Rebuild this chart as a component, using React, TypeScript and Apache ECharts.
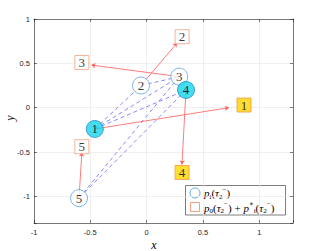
import React, { useEffect, useRef } from 'react';
import * as echarts from 'echarts';

// Circles p_i(tau_2^-)
const circleX = [-0.46, -0.05, 0.29, 0.35, -0.6];
const circleY = [-0.24, 0.25, 0.35, 0.2, -1.02];
const circleFilled = [true, false, false, true, false];
// Squares p_0 + p_i^*
const squareX = [0.865, 0.315, -0.575, 0.315, -0.575];
const squareY = [0.03, 0.8, 0.51, -0.73, -0.44];
const squareFilled = [true, false, false, true, false];
// Arrow tips (from each circle toward its square)
const arrowEndX = [0.73, 0.27, -0.49, 0.314, -0.575];
const arrowEndY = [0.0, 0.73, 0.48, -0.64, -0.505];
// Dashed links between circles (indices)
const links: [number, number][] = [
  [0, 1],
  [0, 2],
  [0, 3],
  [1, 2],
  [2, 4],
  [3, 4],
];
const xTickLabels = ['-1', '-0.5', '0', '0.5', '1'];
const yTickLabels = ['-1', '-0.5', '0', '0.5', '1'];

const AXIS = '#262626';
const GRIDC = '#e4e4e4';
const TICKFONT = 'Liberation Sans, Arial, sans-serif';
const SERIF = 'Liberation Serif, DejaVu Serif, serif';

const fmt = (labels: string[]) => (v: number) => {
  const s = String(Math.round(v * 10) / 10);
  return labels.includes(s) ? s : '';
};

const richStyles = {
  i: { fontFamily: SERIF, fontStyle: 'italic', fontSize: 11, lineHeight: 14, color: '#000' },
  n: { fontFamily: SERIF, fontSize: 11, lineHeight: 14, color: '#000' },
  s: { fontFamily: SERIF, fontSize: 7, lineHeight: 8, verticalAlign: 'bottom', color: '#000' },
  u: { fontFamily: SERIF, fontSize: 7, lineHeight: 8, verticalAlign: 'top', color: '#000' },
};

export default function App() {
  const ref = useRef<HTMLDivElement>(null);
  useEffect(() => {
    const chart = echarts.init(ref.current!, null, { renderer: 'svg' });
    const baseAxis = {
      type: 'value' as const,
      axisLine: { show: true, onZero: false, lineStyle: { color: AXIS, width: 0.6 } },
      axisTick: { show: true, inside: true, length: 3, lineStyle: { color: AXIS, width: 0.6 } },
    };
    const option = {
      animation: false,
      backgroundColor: '#fff',
      grid: { left: 34, top: 19, width: 259, height: 204, containLabel: false },
      xAxis: [
        {
          ...baseAxis,
          position: 'bottom',
          min: -1,
          max: 1.3,
          minInterval: 0.5,
          maxInterval: 0.5,
          splitNumber: 5,
          axisLabel: { formatter: fmt(xTickLabels), color: AXIS, fontSize: 7.5, fontFamily: TICKFONT, margin: 5 },
          splitLine: { show: true, lineStyle: { color: GRIDC, width: 0.6 } },
        },
        {
          ...baseAxis,
          position: 'top',
          min: -1,
          max: 1.3,
          minInterval: 0.5,
          maxInterval: 0.5,
          splitNumber: 5,
          axisLabel: { show: false },
          splitLine: { show: false },
        },
      ],
      yAxis: [
        {
          ...baseAxis,
          position: 'left',
          min: -1.3,
          max: 1,
          minInterval: 0.5,
          maxInterval: 0.5,
          splitNumber: 5,
          axisLabel: { formatter: fmt(yTickLabels), color: AXIS, fontSize: 7.5, fontFamily: TICKFONT, margin: 4 },
          splitLine: { show: true, lineStyle: { color: GRIDC, width: 0.6 } },
        },
        {
          ...baseAxis,
          position: 'right',
          min: -1.3,
          max: 1,
          minInterval: 0.5,
          maxInterval: 0.5,
          splitNumber: 5,
          axisLabel: { show: false },
          splitLine: { show: false },
        },
      ],
      series: [
        {
          type: 'lines',
          coordinateSystem: 'cartesian2d',
          z: 1,
          silent: true,
          lineStyle: { color: '#5a5aff', width: 0.8, type: [4, 3], opacity: 0.9 },
          data: links.map(([a, b]) => ({
            coords: [
              [circleX[a], circleY[a]],
              [circleX[b], circleY[b]],
            ],
          })),
        },
        {
          type: 'lines',
          coordinateSystem: 'cartesian2d',
          z: 2,
          silent: true,
          symbol: ['none', 'arrow'],
          symbolSize: 4,
          lineStyle: { color: '#ff5a5a', width: 0.8, opacity: 1 },
          data: circleX.map((x, i) => ({
            coords: [
              [x, circleY[i]],
              [arrowEndX[i], arrowEndY[i]],
            ],
          })),
        },
        {
          type: 'scatter',
          z: 3,
          symbol: 'circle',
          symbolSize: 17,
          data: circleX.map((x, i) => ({
            value: [x, circleY[i]],
            itemStyle: {
              color: circleFilled[i] ? '#17d4ec' : '#ffffff',
              borderColor: circleFilled[i] ? '#2a8ec9' : '#5aa5e0',
              borderWidth: 1,
            },
          })),
          label: {
            show: true,
            position: 'inside',
            formatter: (p: any) => String(p.dataIndex + 1),
            fontFamily: SERIF,
            fontSize: 13,
            color: '#000',
          },
        },
        {
          type: 'scatter',
          z: 3,
          symbol: 'rect',
          symbolSize: 14,
          data: squareX.map((x, i) => ({
            value: [x, squareY[i]],
            itemStyle: {
              color: squareFilled[i] ? '#ffd500' : '#ffffff',
              borderColor: squareFilled[i] ? '#f09a40' : '#f0a080',
              borderWidth: 1,
            },
          })),
          label: {
            show: true,
            position: 'inside',
            formatter: (p: any) => String(p.dataIndex + 1),
            fontFamily: SERIF,
            fontSize: 13,
            color: '#000',
          },
        },
      ],
      graphic: [
        {
          type: 'text',
          x: 154,
          y: 245,
          style: { text: 'x', fontFamily: SERIF, fontStyle: 'italic', fontSize: 12, fill: '#000', align: 'center', verticalAlign: 'middle' },
        },
        {
          type: 'text',
          x: 10,
          y: 118,
          rotation: Math.PI / 2,
          style: { text: 'y', fontFamily: SERIF, fontStyle: 'italic', fontSize: 12, fill: '#000', align: 'center', verticalAlign: 'middle' },
        },
        {
          type: 'group',
          z: 100,
          children: [
            {
              type: 'rect',
              shape: { x: 185.5, y: 185.5, width: 100, height: 29.5 },
              style: { fill: '#fff', stroke: AXIS, lineWidth: 0.6 },
            },
            {
              type: 'circle',
              shape: { cx: 195, cy: 193, r: 5 },
              style: { fill: 'none', stroke: '#5aa5e0', lineWidth: 1 },
            },
            {
              type: 'rect',
              shape: { x: 190.5, y: 202.5, width: 9, height: 9 },
              style: { fill: 'none', stroke: '#f0a080', lineWidth: 1 },
            },
            {
              type: 'text',
              x: 204,
              y: 193,
              style: {
                text: '{i|p}{s|i}{n|(}{i|τ}{s|2}{u|−}{n|)}',
                rich: richStyles,
                verticalAlign: 'middle',
                align: 'left',
              },
            },
            {
              type: 'text',
              x: 204,
              y: 207.5,
              style: {
                text: '{i|p}{s|0}{n|(}{i|τ}{s|2}{u|−}{n|) + }{i|p}{u|∗}{s|i}{n|(}{i|τ}{s|2}{u|−}{n|)}',
                rich: richStyles,
                verticalAlign: 'middle',
                align: 'left',
              },
            },
          ],
        },
      ],
    };
    chart.setOption(option as any);
    return () => chart.dispose();
  }, []);
  return (
    <div
      ref={ref}
      style={{ position: 'fixed', left: 0, top: 0, width: 316, height: 251, background: '#fff' }}
    />
  );
}
